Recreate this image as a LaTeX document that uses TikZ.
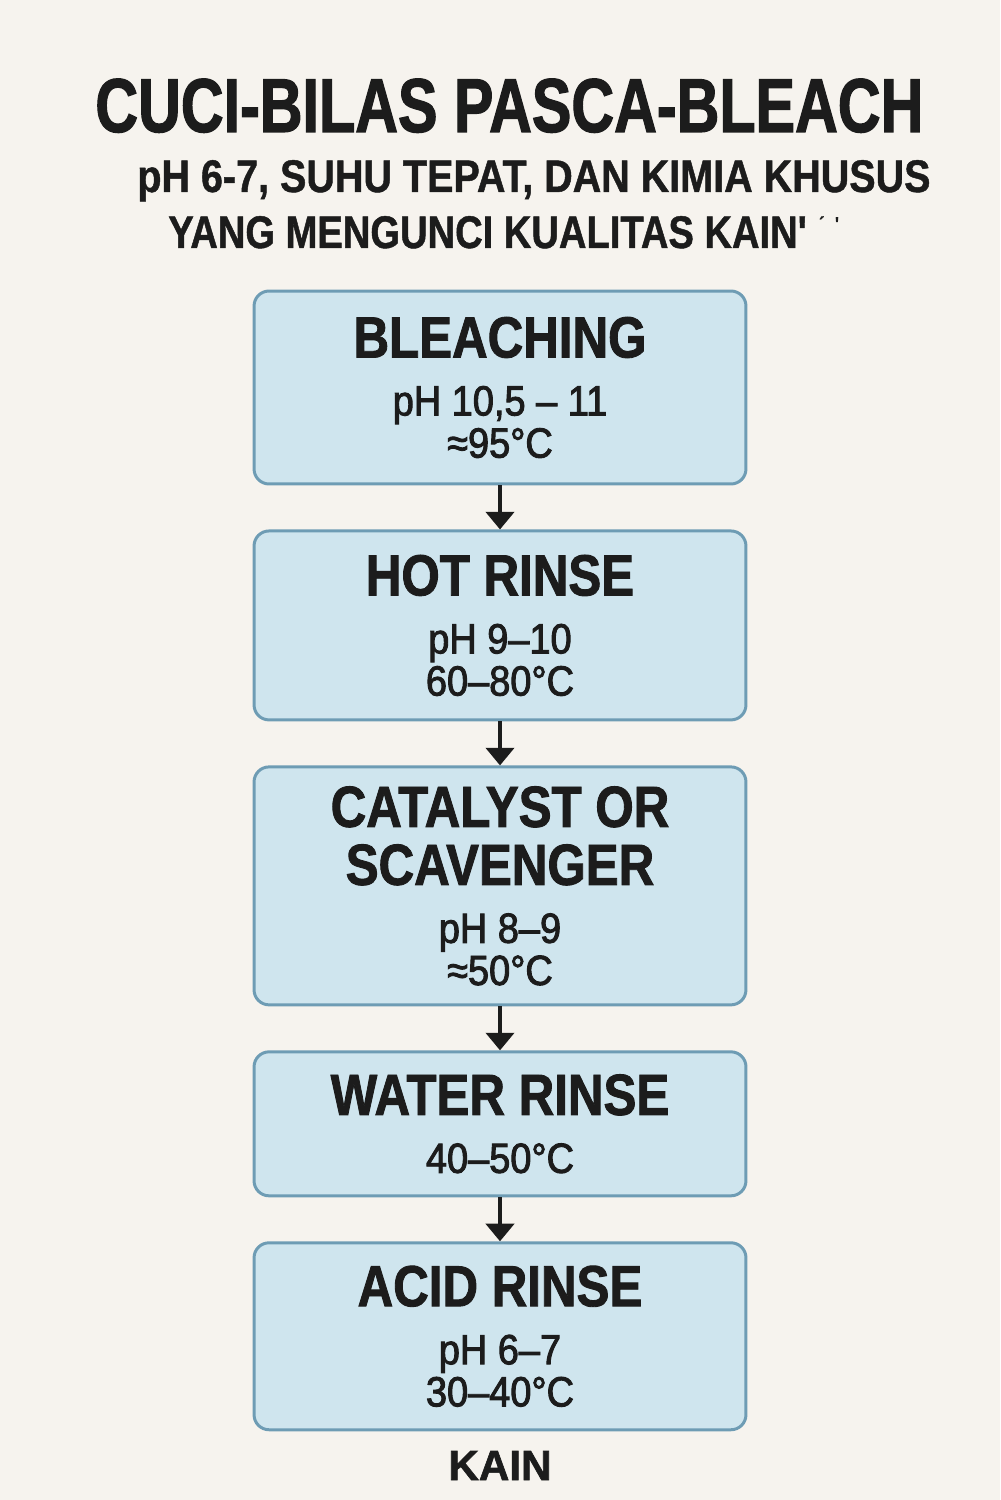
\documentclass[tikz,border=0pt]{standalone}
\usepackage{fontspec}
\setmainfont{Liberation Sans}
\newfontfamily\titlefont[FakeStretch=0.775,FakeBold=1.5]{Liberation Sans}
\newfontfamily\linefont[FakeStretch=0.865,FakeBold=1]{Liberation Sans}
\newfontfamily\lastlinefont[FakeStretch=0.835,FakeBold=1]{Liberation Sans}
\newfontfamily\stepfont[FakeStretch=0.85,FakeBold=1.5]{Liberation Sans}
\newfontfamily\notefont[FakeStretch=0.9,FakeBold=2.2]{Liberation Sans}
\newfontfamily\endfont[FakeBold=1.5]{Liberation Sans}
\usetikzlibrary{positioning,arrows.meta}

\definecolor{bgcream}{HTML}{F6F3EE}
\definecolor{boxfill}{HTML}{CFE5EE}
\definecolor{boxline}{HTML}{6E9CB4}
\definecolor{inkdark}{HTML}{1C1C1C}

\newcommand{\stephead}[1]{{\stepfont\bfseries\fontsize{33}{36}\selectfont #1}}

\begin{document}
\begin{tikzpicture}[
  x=0.02cm, y=-0.02cm,
  node distance=0.88cm,
  stepbox/.style={draw=boxline, line width=1.7pt, fill=boxfill, rounded corners=0.3cm,
    minimum width=9.84cm, align=center, text=inkdark, inner sep=0pt,
    font=\notefont\fontsize{24}{24}\selectfont},
  heading/.style={anchor=base west, inner sep=0pt, text=inkdark},
  subhead/.style={heading, font=\linefont\bfseries\fontsize{26}{28}\selectfont},
  flow/.style={-{Triangle[width=16pt,length=10pt]}, line width=2.1pt, draw=inkdark}
]
  % Page
  \fill[bgcream] (0,0) rectangle (1000,1500);

  % Title
  \node[heading, font=\titlefont\bfseries\fontsize{43.5}{48}\selectfont] (title) at (95,132) {CUCI-BILAS PASCA-BLEACH};
  \node[subhead] (subA) at (137,192) {pH 6-7, SUHU TEPAT, DAN KIMIA KHUSUS};
  \node[subhead, font=\lastlinefont\bfseries\fontsize{26}{28}\selectfont] (subB) at (168,248)
    {YANG MENGUNCI KUALITAS KAIN\textquotesingle\hspace{6pt}\raisebox{10pt}{\fontsize{11}{11}\selectfont ´\hspace{6pt}\textquotesingle}};

  % Steps
  \node[stepbox, minimum height=3.86cm] (bleach) at (500,387.5)
    {\stephead{BLEACHING}\\[9pt] pH 10,5 – 11\\ ≈95°C};
  \node[stepbox, minimum height=3.78cm, below=of bleach] (hot)
    {\stephead{HOT RINSE}\\[9pt] pH 9–10\\ 60–80°C};
  \node[stepbox, minimum height=4.76cm, below=of hot] (catalyst)
    {\stephead{CATALYST OR}\\[9pt] \stephead{SCAVENGER}\\[9pt] pH 8–9\\ ≈50°C};
  \node[stepbox, minimum height=2.88cm, below=of catalyst] (water)
    {\stephead{WATER RINSE}\\[9pt] 40–50°C};
  \node[stepbox, minimum height=3.74cm, below=of water] (acid)
    {\stephead{ACID RINSE}\\[9pt] pH 6–7\\ 30–40°C};

  % Output
  \node[anchor=base, inner sep=0pt, text=inkdark, font=\endfont\bfseries\fontsize{24}{26}\selectfont] (fabric) at (500,1480) {KAIN};

  % Arrows
  \draw[flow] (bleach) -- (hot);
  \draw[flow] (hot) -- (catalyst);
  \draw[flow] (catalyst) -- (water);
  \draw[flow] (water) -- (acid);
\end{tikzpicture}
\end{document}
